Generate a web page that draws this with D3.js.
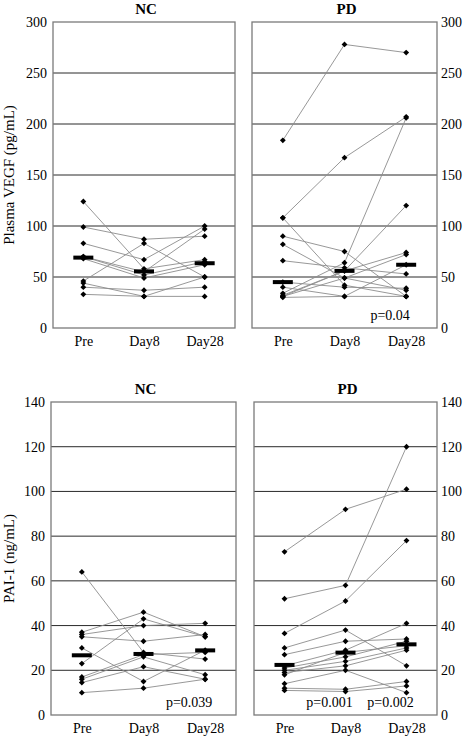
<!DOCTYPE html>
<html>
<head>
<meta charset="utf-8">
<script src="https://cdn.jsdelivr.net/npm/d3@7"></script>
<style>
  html, body { margin: 0; padding: 0; background: #fff; }
  svg { display: block; }
  svg text { font-family: "Liberation Serif", "Times New Roman", serif; fill: #000; }
</style>
</head>
<body>
<svg id="chart" width="466" height="736"></svg>
<script>
// ---------- data ----------
const categories = ["Pre", "Day8", "Day28"];
const vegfTicks = [0, 50, 100, 150, 200, 250, 300];
const paiTicks = [0, 20, 40, 60, 80, 100, 120, 140];

// Plasma VEGF (pg/mL), each row = one subject [Pre, Day8, Day28]
const vegfNC = [
  [124, 58, 67], [99, 87, 90], [83, 67, 100], [70, 55, 97], [70, 52, 65],
  [68, 49, 62], [46, 83, 50], [44, 31, 50], [40, 37, 40], [33, 31, 31]
];
const vegfPD = [
  [184, 278, 270], [108, 167, 207], [108, 42, 31], [90, 75, 31], [82, 49, 37],
  [66, 59, 53], [45, 40, 39], [40, 31, 31], [34, 64, 206], [32, 56, 120],
  [31, 56, 74], [31, 49, 72], [30, 31, 62]
];
// PAI-1 (ng/mL)
const paiNC = [
  [64, 28, 25], [37, 46, 35], [36, 40, 41], [35, 33, 36], [30, 15, 29],
  [23, 43, 35], [17, 27, 28], [16, 26, 18], [14.5, 21.6, 16], [10, 12, 16]
];
const paiPD = [
  [73, 92, 101], [52, 58, 120], [36.5, 51, 78], [30, 38, 22], [27, 33, 34],
  [22, 29, 41], [21, 26, 33], [20, 24, 30], [19, 22, 29], [18, 28, 31],
  [14, 20, 10], [12, 11.5, 15], [11, 10.5, 13]
];
// median bars
const vegfNCMedian = [69, 55.5, 63.5];
const vegfPDMedian = [45, 56, 62];
const paiNCMedian = [26.7, 27.3, 28.9];
const paiPDMedian = [22.4, 27.9, 31.6];

// p-value annotations: [category, text]
const vegfPDNotes = [["Day28", "p=0.04"]];
const paiNCNotes = [["Day28", "p=0.039"]];
const paiPDNotes = [["Day8", "p=0.001"], ["Day28", "p=0.002"]];

// ---------- drawing ----------
const svg = d3.select("#chart");

const rows = [
  { top: 22, bottom: 328, max: 300, ticks: vegfTicks, title: "Plasma VEGF (pg/mL)",
    panels: [
      { name: "NC", x0: 53, x1: 235, data: vegfNC, med: vegfNCMedian, notes: [], side: "left" },
      { name: "PD", x0: 252, x1: 437, data: vegfPD, med: vegfPDMedian, notes: vegfPDNotes, side: "right" }
    ] },
  { top: 402, bottom: 715, max: 140, ticks: paiTicks, title: "PAI-1 (ng/mL)",
    panels: [
      { name: "NC", x0: 51, x1: 236, data: paiNC, med: paiNCMedian, notes: paiNCNotes, side: "left" },
      { name: "PD", x0: 254, x1: 437, data: paiPD, med: paiPDMedian, notes: paiPDNotes, side: "right" }
    ] }
];

rows.forEach(row => {
  const y = d3.scaleLinear().domain([0, row.max]).range([row.bottom, row.top]);

  // y axis title
  svg.append("text")
    .attr("transform", `translate(14,${(row.top + row.bottom) / 2}) rotate(-90)`)
    .attr("text-anchor", "middle")
    .attr("font-size", 15)
    .text(row.title);

  row.panels.forEach(p => {
    const x = d3.scalePoint().domain(categories).range([p.x0, p.x1]).padding(0.5);
    const g = svg.append("g");

    // grid lines
    g.selectAll("line.grid").data(row.ticks.filter(t => t > 0 && t < row.max)).join("line")
      .attr("x1", p.x0).attr("x2", p.x1)
      .attr("y1", d => y(d)).attr("y2", d => y(d))
      .attr("stroke", "#2a2a2a").attr("stroke-width", 1);

    // frame
    g.append("rect")
      .attr("x", p.x0).attr("y", row.top)
      .attr("width", p.x1 - p.x0).attr("height", row.bottom - row.top)
      .attr("fill", "none").attr("stroke", "#7a7a7a").attr("stroke-width", 1.3);

    // y axis tick labels
    const axis = p.side === "left"
      ? d3.axisLeft(y).tickValues(row.ticks).tickSize(0).tickPadding(6)
      : d3.axisRight(y).tickValues(row.ticks).tickSize(0).tickPadding(4);
    const ax = g.append("g")
      .attr("transform", `translate(${p.side === "left" ? p.x0 : p.x1},0)`)
      .call(axis)
      .attr("font-family", null).attr("font-size", null);
    ax.select(".domain").remove();
    ax.selectAll("text").attr("font-size", 14);

    // x axis labels
    const xa = g.append("g")
      .attr("transform", `translate(0,${row.bottom})`)
      .call(d3.axisBottom(x).tickSize(0).tickPadding(8))
      .attr("font-family", null).attr("font-size", null);
    xa.select(".domain").remove();
    xa.selectAll("text").attr("font-size", 14);

    // title
    g.append("text")
      .attr("x", (p.x0 + p.x1) / 2 + 2)
      .attr("y", row.top - 8)
      .attr("text-anchor", "middle")
      .attr("font-size", 15).attr("font-weight", "bold")
      .text(p.name);

    // connecting lines
    const line = d3.line().x((d, i) => x(categories[i])).y(d => y(d));
    g.selectAll("path.subj").data(p.data).join("path")
      .attr("d", d => line(d))
      .attr("fill", "none").attr("stroke", "#8c8c8c").attr("stroke-width", 0.9);

    // points (square rotated 45° = diamond)
    const pts = p.data.flatMap(d => d.map((v, i) => ({ c: categories[i], v })));
    g.selectAll("path.pt").data(pts).join("path")
      .attr("transform", d => `translate(${x(d.c)},${y(d.v)}) rotate(45)`)
      .attr("d", d3.symbol(d3.symbolSquare, 17))
      .attr("fill", "#000");

    // median bars
    g.selectAll("rect.med").data(p.med).join("rect")
      .attr("x", (d, i) => x(categories[i]) - 10)
      .attr("y", d => y(d) - 2)
      .attr("width", 20).attr("height", 4)
      .attr("fill", "#000");

    // p-value notes
    g.selectAll("text.note").data(p.notes).join("text")
      .attr("x", d => x(d[0]) - 16)
      .attr("y", row.bottom - 8)
      .attr("text-anchor", "middle")
      .attr("font-size", 14)
      .text(d => d[1]);
  });
});
</script>
</body>
</html>
